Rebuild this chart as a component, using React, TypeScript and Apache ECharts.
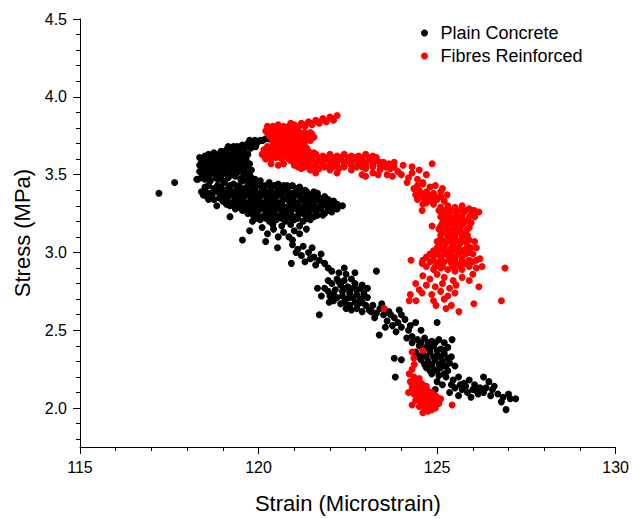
import { useEffect, useRef } from "react";
import * as echarts from "echarts";

type Pt = [number, number];

const seriesNames = ["Plain Concrete", "Fibres Reinforced"];
const seriesColors = ["#000000", "#ff0000"];

const strainRange = [115, 130];
const stressRange = [1.75, 4.5];
const stressMajorTicks = [2.0, 2.5, 3.0, 3.5, 4.0, 4.5];
const stressMinorTicks = [
  1.8, 1.9, 2.1, 2.2, 2.3, 2.4, 2.6, 2.7, 2.8, 2.9, 3.1, 3.2, 3.3, 3.4, 3.6, 3.7, 3.8, 3.9, 4.1, 4.2,
  4.3, 4.4,
];

// ---- Plain concrete (strain, stress) ----
const plainUpperBand: Pt[] = [
  [120.55, 3.75], [120.42, 3.74], [120.28, 3.73], [120.12, 3.72], [119.98, 3.71], [119.85, 3.7],
  [119.7, 3.7], [119.55, 3.69], [119.4, 3.68], [119.25, 3.67], [119.1, 3.66], [119.92, 3.68],
  [119.78, 3.67], [119.6, 3.66], [119.45, 3.65], [119.3, 3.64], [118.95, 3.65], [118.8, 3.63],
  [119.15, 3.63], [119.7, 3.63],
  [119.75, 3.72], [119.9, 3.72], [120.05, 3.72], [120.2, 3.73], [120.35, 3.73], [120.5, 3.74],
  [119.15, 3.68], [119.3, 3.68], [119.5, 3.68], [119.65, 3.68], [119.8, 3.69],
  [118.6, 3.63], [118.75, 3.64], [118.9, 3.63], [119.05, 3.64], [119.35, 3.63], [119.5, 3.63],
  [119.6, 3.64],
  [118.35, 3.61], [118.5, 3.62], [118.65, 3.61], [118.8, 3.6], [118.95, 3.61], [119.1, 3.6],
  [119.25, 3.61], [119.4, 3.6], [119.55, 3.61],
  [118.45, 3.59], [118.6, 3.59], [118.75, 3.59], [118.9, 3.59], [119.05, 3.59], [119.2, 3.59],
  [119.35, 3.59], [119.5, 3.59], [119.65, 3.6],
  [118.4, 3.58], [118.55, 3.57], [118.7, 3.58], [118.85, 3.57], [119.0, 3.58], [119.15, 3.57],
  [119.3, 3.58], [119.45, 3.57], [119.6, 3.58], [119.75, 3.57],
  [118.35, 3.56], [118.5, 3.56], [118.65, 3.56], [118.8, 3.56], [118.95, 3.56], [119.1, 3.56],
  [119.25, 3.56], [119.4, 3.56], [119.55, 3.56], [119.7, 3.56],
  [118.45, 3.54], [118.6, 3.55], [118.75, 3.54], [118.9, 3.53], [119.05, 3.55], [119.2, 3.54],
  [119.35, 3.53], [119.5, 3.54], [119.65, 3.55], [119.8, 3.53],
  [118.35, 3.52], [118.5, 3.52], [118.65, 3.52], [118.8, 3.52], [118.95, 3.52], [119.1, 3.52],
  [119.3, 3.52], [119.45, 3.52], [119.6, 3.52], [119.75, 3.51],
  [118.4, 3.51], [118.55, 3.5], [118.7, 3.51], [118.9, 3.5], [119.05, 3.51], [119.25, 3.5],
  [119.4, 3.51], [119.6, 3.5], [119.75, 3.49],
  [118.4, 3.48], [118.6, 3.49], [118.8, 3.48], [118.95, 3.49], [119.15, 3.48], [119.35, 3.49],
  [119.55, 3.48], [119.8, 3.48],
  [118.3, 3.47], [118.5, 3.47], [118.65, 3.46], [118.85, 3.47], [119.0, 3.46], [119.5, 3.47],
  [119.7, 3.46], [119.9, 3.47], [120.05, 3.46],
];

const plainOutliers: Pt[] = [
  [117.21, 3.38], [117.65, 3.45], [118.27, 3.47], [118.83, 3.3], [118.6, 3.34],
];

const plainCore: Pt[] = [
  [119.05, 3.45], [119.3, 3.44], [119.55, 3.46], [119.8, 3.45], [120.05, 3.44], [120.3, 3.45],
  [120.55, 3.44], [120.8, 3.43],
  [118.6, 3.43], [118.85, 3.43], [119.2, 3.43], [119.45, 3.43], [119.7, 3.43], [119.95, 3.43],
  [120.2, 3.43], [120.45, 3.43], [120.7, 3.43], [120.95, 3.43], [121.15, 3.42],
  [118.5, 3.42], [118.75, 3.41], [118.95, 3.42], [119.15, 3.41], [119.4, 3.42], [119.6, 3.41],
  [119.85, 3.42], [120.1, 3.41], [120.35, 3.42], [120.6, 3.41], [120.85, 3.42], [121.05, 3.41],
  [121.3, 3.4],
  [118.5, 3.4], [118.75, 3.4], [119.0, 3.4], [119.2, 3.4], [119.45, 3.4], [119.65, 3.4],
  [119.9, 3.4], [120.1, 3.4], [120.35, 3.4], [120.55, 3.4], [120.8, 3.4], [121.05, 3.4],
  [121.35, 3.39], [121.55, 3.39],
  [118.4, 3.39], [118.6, 3.38], [118.85, 3.39], [119.05, 3.38], [119.3, 3.39], [119.5, 3.38],
  [119.75, 3.39], [119.95, 3.38], [120.2, 3.39], [120.45, 3.38], [120.7, 3.39], [120.95, 3.38],
  [121.2, 3.39], [121.45, 3.37], [121.65, 3.38],
  [118.45, 3.37], [118.7, 3.37], [119.0, 3.37], [119.25, 3.37], [119.45, 3.37], [119.7, 3.37],
  [119.9, 3.37], [120.15, 3.37], [120.35, 3.37], [120.6, 3.37], [120.85, 3.37], [121.1, 3.37],
  [121.35, 3.37], [121.6, 3.36], [121.85, 3.36],
  [118.55, 3.36], [118.9, 3.35], [119.15, 3.36], [119.35, 3.35], [119.6, 3.36], [119.8, 3.35],
  [120.05, 3.36], [120.25, 3.35], [120.5, 3.36], [120.75, 3.35], [121.0, 3.36], [121.25, 3.35],
  [121.5, 3.36], [121.7, 3.35], [121.95, 3.34],
  [118.75, 3.34], [119.1, 3.34], [119.35, 3.34], [119.55, 3.34], [119.8, 3.34], [120.0, 3.34],
  [120.25, 3.34], [120.45, 3.34], [120.7, 3.34], [120.95, 3.34], [121.2, 3.34], [121.45, 3.34],
  [121.65, 3.34], [121.9, 3.33], [122.1, 3.33],
  [119.0, 3.33], [119.25, 3.32], [119.45, 3.33], [119.7, 3.32], [119.9, 3.33], [120.15, 3.32],
  [120.35, 3.33], [120.6, 3.32], [120.85, 3.33], [121.1, 3.32], [121.35, 3.33], [121.55, 3.32],
  [121.8, 3.33], [122.0, 3.32], [122.2, 3.31],
  [119.1, 3.31], [119.35, 3.31], [119.55, 3.31], [119.8, 3.31], [120.0, 3.31], [120.2, 3.31],
  [120.45, 3.31], [120.65, 3.31], [120.9, 3.31], [121.1, 3.31], [121.3, 3.31], [121.55, 3.31],
  [121.75, 3.31], [122.0, 3.3], [122.25, 3.3],
  [119.2, 3.3], [119.45, 3.29], [119.65, 3.3], [119.85, 3.29], [120.1, 3.3], [120.3, 3.29],
  [120.55, 3.3], [120.75, 3.29], [121.0, 3.3], [121.2, 3.29], [121.45, 3.3], [121.65, 3.29],
  [121.9, 3.3], [122.1, 3.29], [122.35, 3.3],
  [119.35, 3.28], [119.7, 3.28], [119.9, 3.28], [120.15, 3.28], [120.35, 3.28], [120.6, 3.28],
  [120.8, 3.28], [121.05, 3.28], [121.3, 3.28], [121.5, 3.28], [121.75, 3.28], [121.95, 3.27],
  [122.2, 3.28],
  [119.55, 3.27], [119.8, 3.26], [120.0, 3.27], [120.25, 3.26], [120.45, 3.27], [120.7, 3.26],
  [120.9, 3.27], [121.15, 3.26], [121.4, 3.27], [121.6, 3.26], [121.85, 3.25], [122.05, 3.26],
  [119.7, 3.25], [119.95, 3.25], [120.2, 3.25], [120.45, 3.25], [120.65, 3.25], [120.9, 3.25],
  [121.15, 3.25], [121.4, 3.25], [121.65, 3.24], [121.8, 3.24],
  [119.85, 3.24], [120.1, 3.23], [120.35, 3.24], [120.55, 3.23], [120.8, 3.24], [121.05, 3.23],
  [121.3, 3.24], [121.55, 3.23],
  [119.95, 3.22], [120.2, 3.22], [120.4, 3.22], [120.65, 3.22], [120.9, 3.22], [121.1, 3.22],
  [121.35, 3.22],
  [120.05, 3.21], [120.3, 3.2], [120.5, 3.21], [120.75, 3.2], [121.0, 3.21], [121.25, 3.2],
  [121.45, 3.21],
  [120.4, 3.18], [120.65, 3.17], [120.9, 3.18], [121.15, 3.17],
];

const plainScatter: Pt[] = [
  [119.55, 3.08], [119.75, 3.14], [119.83, 3.2], [120.1, 3.16], [120.25, 3.12], [120.42, 3.15],
  [120.55, 3.1], [120.7, 3.13], [120.85, 3.1], [121.0, 3.14], [121.15, 3.12], [121.34, 3.15],
  [120.53, 3.03], [120.2, 3.07], [119.2, 3.23], [120.95, 3.08],
];

const plainDiagonal: Pt[] = [
  [120.95, 3.05], [121.1, 3.02], [121.25, 3.04], [121.4, 3.0], [121.2, 2.98], [121.55, 2.97],
  [121.7, 2.95], [121.85, 2.93], [121.6, 2.92], [121.95, 2.9], [120.92, 2.93], [121.3, 2.94],
  [121.45, 2.96], [121.75, 2.99], [121.05, 3.0], [121.5, 3.03],
  [122.05, 2.88], [122.25, 2.87], [122.45, 2.86], [122.2, 2.83], [122.4, 2.82], [122.6, 2.83],
  [122.05, 2.8], [122.3, 2.79], [122.5, 2.78], [122.7, 2.8], [122.9, 2.79], [121.85, 2.77],
  [122.15, 2.76], [122.35, 2.75], [122.55, 2.74], [122.75, 2.76], [122.95, 2.74], [121.76, 2.72],
  [122.0, 2.72], [122.2, 2.71], [122.45, 2.7], [122.65, 2.71], [122.85, 2.7], [123.05, 2.71],
  [121.65, 2.77], [121.98, 2.68], [122.3, 2.67], [122.55, 2.66], [122.8, 2.67], [123.0, 2.66],
  [121.7, 2.6], [122.6, 2.63], [122.9, 2.62], [123.3, 2.88], [122.4, 2.9], [122.7, 2.87],
  [121.95, 2.82], [122.25, 2.81], [122.45, 2.77], [122.65, 2.77], [122.85, 2.77], [123.05, 2.77],
  [121.95, 2.75], [122.1, 2.73], [122.35, 2.72], [122.55, 2.71], [122.75, 2.73], [122.95, 2.72],
  [122.1, 2.69], [122.4, 2.68], [122.7, 2.68], [122.9, 2.68], [122.45, 2.64], [122.75, 2.64],
  [123.1, 2.63],
  [123.2, 2.66], [123.4, 2.64], [123.3, 2.61], [123.5, 2.6], [123.65, 2.62], [123.94, 2.63],
  [123.8, 2.58], [123.6, 2.56], [123.9, 2.55], [124.1, 2.57], [124.0, 2.52], [124.2, 2.5],
  [123.38, 2.47], [124.3, 2.46], [124.15, 2.45], [123.75, 2.53], [124.4, 2.55], [125.0, 2.55],
  [124.55, 2.5], [123.15, 2.62], [123.45, 2.67], [123.7, 2.6], [124.0, 2.6], [123.55, 2.52],
  [124.25, 2.53], [123.85, 2.49], [124.3, 2.42], [123.25, 2.58],
];

const plainLowerCluster: Pt[] = [
  [124.45, 2.44], [124.65, 2.45], [124.85, 2.43], [125.05, 2.44], [125.42, 2.44], [124.5, 2.4],
  [124.7, 2.39], [124.9, 2.4], [125.1, 2.38], [125.3, 2.39], [124.4, 2.36], [124.6, 2.35],
  [124.8, 2.36], [125.0, 2.34], [125.2, 2.35], [125.4, 2.33], [124.55, 2.31], [124.75, 2.3],
  [124.95, 2.31], [125.15, 2.3], [125.35, 2.29], [124.7, 2.26], [124.9, 2.25], [125.1, 2.26],
  [125.3, 2.24], [124.85, 2.22], [125.05, 2.21], [124.0, 2.31], [123.8, 2.32], [123.83, 2.2],
  [125.5, 2.27],
  [124.55, 2.42], [124.75, 2.42], [124.95, 2.42], [125.2, 2.42], [124.6, 2.38], [124.8, 2.38],
  [125.0, 2.37], [125.2, 2.37], [124.5, 2.33], [124.7, 2.33], [124.9, 2.33], [125.1, 2.33],
  [125.3, 2.32], [124.65, 2.28], [124.85, 2.28], [125.05, 2.28], [125.25, 2.27], [124.8, 2.24],
  [125.0, 2.24], [125.2, 2.22],
];

const plainTail: Pt[] = [
  [125.25, 2.2], [125.45, 2.18], [125.6, 2.2], [125.75, 2.16], [125.9, 2.18], [126.05, 2.15],
  [125.5, 2.13], [125.7, 2.12], [125.85, 2.1], [126.0, 2.12], [126.2, 2.13], [126.37, 2.13],
  [126.55, 2.12], [126.7, 2.09], [125.35, 2.1], [125.6, 2.08], [126.15, 2.09], [126.85, 2.07],
  [127.0, 2.09], [127.2, 2.06], [126.93, 1.99], [126.8, 2.04], [125.15, 2.15], [125.0, 2.17],
  [124.95, 2.12], [126.3, 2.2], [126.45, 2.17],
  [125.4, 2.15], [125.65, 2.15], [125.8, 2.14], [126.1, 2.11], [126.3, 2.1], [126.5, 2.08],
  [126.6, 2.14], [125.95, 2.07], [127.05, 2.06],
];

// ---- Fibre reinforced (strain, stress) ----
const fibreTopArm: Pt[] = [
  [121.0, 3.82], [121.2, 3.83], [121.4, 3.84], [121.6, 3.85], [121.8, 3.86], [122.0, 3.87],
  [122.2, 3.88], [121.1, 3.8], [121.3, 3.81], [121.5, 3.82], [121.7, 3.83], [121.9, 3.84],
  [122.1, 3.85], [120.9, 3.83], [121.05, 3.81], [121.25, 3.82], [121.45, 3.83], [121.65, 3.84],
  [121.85, 3.85], [122.05, 3.86],
];

const fibreUpperBody: Pt[] = [
  [120.25, 3.81], [120.4, 3.81], [120.55, 3.82], [120.7, 3.81], [120.85, 3.81],
  [120.3, 3.8], [120.48, 3.8], [120.63, 3.8], [120.78, 3.8], [120.92, 3.8],
  [120.2, 3.78], [120.35, 3.78], [120.5, 3.79], [120.65, 3.78], [120.8, 3.78], [120.95, 3.79],
  [121.1, 3.78],
  [120.25, 3.77], [120.4, 3.77], [120.55, 3.77], [120.7, 3.77], [120.85, 3.77], [121.0, 3.77],
  [121.15, 3.77], [121.3, 3.77], [121.45, 3.77],
  [120.3, 3.75], [120.45, 3.75], [120.6, 3.76], [120.75, 3.75], [120.9, 3.75], [121.05, 3.76],
  [121.2, 3.75], [121.35, 3.75], [121.5, 3.76],
  [120.35, 3.74], [120.5, 3.74], [120.65, 3.74], [120.8, 3.74], [120.95, 3.74], [121.1, 3.74],
  [121.25, 3.74], [121.4, 3.74], [121.55, 3.74],
  [120.4, 3.72], [120.55, 3.72], [120.7, 3.73], [120.85, 3.72], [121.0, 3.72], [121.15, 3.73],
  [121.3, 3.72], [121.45, 3.72],
  [120.4, 3.71], [120.55, 3.71], [120.7, 3.71], [120.85, 3.71], [121.0, 3.71], [121.15, 3.71],
  [121.3, 3.71],
  [120.45, 3.69], [120.6, 3.69], [120.75, 3.7], [120.9, 3.69], [121.05, 3.69], [121.2, 3.7],
  [120.25, 3.68], [120.4, 3.68], [120.55, 3.68], [120.7, 3.68], [120.85, 3.68], [121.0, 3.68],
  [121.15, 3.68], [121.3, 3.68],
  [120.15, 3.66], [120.3, 3.66], [120.45, 3.67], [120.6, 3.66], [120.75, 3.66], [120.9, 3.67],
  [121.05, 3.66], [121.2, 3.66], [121.35, 3.67],
  [120.2, 3.65], [120.35, 3.65], [120.5, 3.65], [120.65, 3.65], [120.8, 3.65], [120.95, 3.65],
  [121.1, 3.65], [121.25, 3.65], [121.4, 3.65], [121.55, 3.64],
  [120.1, 3.63], [120.25, 3.63], [120.4, 3.64], [120.55, 3.63], [120.7, 3.63], [120.85, 3.64],
  [121.0, 3.63], [121.15, 3.63], [121.3, 3.64], [121.45, 3.63], [121.6, 3.63],
  [120.15, 3.62], [120.3, 3.62], [120.45, 3.62], [120.6, 3.62], [120.75, 3.62], [120.95, 3.62],
  [121.15, 3.62], [121.35, 3.62], [121.5, 3.62],
  [120.2, 3.6], [120.35, 3.6], [120.5, 3.61], [120.65, 3.6], [120.85, 3.6], [121.05, 3.61],
  [121.25, 3.6],
  [120.35, 3.57], [120.55, 3.56], [120.7, 3.57],
];

const fibreShelf: Pt[] = [
  [121.6, 3.63], [121.8, 3.62], [122.0, 3.63], [122.2, 3.62], [122.4, 3.63], [122.6, 3.62],
  [122.8, 3.62], [123.0, 3.63], [123.2, 3.62],
  [121.7, 3.61], [121.9, 3.61], [122.1, 3.61], [122.3, 3.61], [122.5, 3.61], [122.7, 3.61],
  [122.9, 3.61], [123.1, 3.61], [123.3, 3.61],
  [120.9, 3.59], [121.1, 3.6], [121.3, 3.59], [121.5, 3.6], [121.7, 3.59], [121.9, 3.6],
  [122.1, 3.59], [122.3, 3.6], [122.5, 3.59], [122.7, 3.6], [122.9, 3.59], [123.1, 3.6],
  [123.3, 3.59], [123.5, 3.58],
  [121.0, 3.58], [121.2, 3.58], [121.4, 3.58], [121.6, 3.58], [121.8, 3.58], [122.0, 3.58],
  [122.2, 3.58], [122.4, 3.58], [122.6, 3.58], [122.8, 3.58], [123.0, 3.58], [123.2, 3.58],
  [123.4, 3.58], [123.65, 3.57],
  [121.0, 3.56], [121.2, 3.57], [121.4, 3.56], [121.6, 3.57], [121.8, 3.56], [122.0, 3.57],
  [122.2, 3.56], [122.4, 3.57], [122.6, 3.56], [122.8, 3.57], [123.0, 3.56], [123.2, 3.57],
  [123.4, 3.56], [123.6, 3.55],
  [121.1, 3.55], [121.3, 3.55], [121.55, 3.55], [121.85, 3.55], [122.1, 3.55], [122.4, 3.55],
  [122.75, 3.55], [122.9, 3.55], [123.2, 3.55], [123.55, 3.55], [123.8, 3.55],
  [121.2, 3.54], [121.45, 3.53], [121.7, 3.54], [122.0, 3.53], [122.25, 3.54], [122.6, 3.53],
  [123.0, 3.54], [123.4, 3.53], [123.7, 3.54], [123.9, 3.52],
  [121.6, 3.51], [122.2, 3.51], [122.9, 3.5], [123.2, 3.51], [123.6, 3.5], [124.0, 3.5],
  [124.3, 3.51],
  [123.8, 3.58], [124.05, 3.56], [124.3, 3.55], [124.5, 3.53], [124.86, 3.57], [124.7, 3.5],
  [124.2, 3.48], [124.45, 3.47], [123.75, 3.49], [124.6, 3.45], [123.0, 3.49], [123.35, 3.5],
];

const fibreShoulder: Pt[] = [
  [124.16, 3.45], [124.45, 3.43], [124.6, 3.44], [124.8, 3.42], [124.95, 3.43], [125.15, 3.41],
  [124.5, 3.4], [124.7, 3.39], [124.9, 3.38], [125.1, 3.39], [125.28, 3.37], [124.4, 3.37],
  [124.6, 3.36], [124.8, 3.35], [125.0, 3.34], [124.7, 3.32], [124.9, 3.31], [124.58, 3.27],
  [124.86, 3.17], [124.45, 3.34], [125.2, 3.33],
  [124.35, 3.41], [124.55, 3.38], [124.75, 3.37], [124.95, 3.36], [125.1, 3.36], [124.65, 3.34],
  [124.85, 3.33], [124.6, 3.31],
];

const fibreColumn: Pt[] = [
  [125.1, 3.29], [125.3, 3.3], [125.5, 3.29], [125.7, 3.3], [125.9, 3.28], [126.05, 3.27],
  [126.17, 3.26],
  [125.05, 3.27], [125.4, 3.27], [125.8, 3.27], [126.0, 3.27],
  [125.15, 3.25], [125.35, 3.26], [125.55, 3.25], [125.75, 3.26], [125.95, 3.24],
  [125.1, 3.23], [125.3, 3.23], [125.5, 3.23], [125.7, 3.23], [125.9, 3.23], [126.05, 3.23],
  [125.2, 3.21], [125.4, 3.22], [125.6, 3.21], [125.8, 3.2],
  [125.15, 3.19], [125.35, 3.19], [125.55, 3.19], [125.75, 3.19], [125.95, 3.19],
  [125.1, 3.17], [125.3, 3.18], [125.5, 3.17], [125.7, 3.18], [125.9, 3.16],
  [125.05, 3.15], [125.45, 3.15], [125.85, 3.15],
  [125.15, 3.13], [125.35, 3.14], [125.55, 3.13], [125.75, 3.12],
  [125.1, 3.11], [125.3, 3.11], [125.5, 3.11], [125.7, 3.11], [125.85, 3.11],
  [125.1, 3.09], [125.3, 3.1], [125.5, 3.09], [125.7, 3.1], [125.9, 3.08], [126.05, 3.07],
  [125.0, 3.07], [125.2, 3.07], [125.4, 3.07], [125.8, 3.07],
  [125.05, 3.05], [125.25, 3.06], [125.45, 3.05], [125.65, 3.06], [125.85, 3.04],
  [125.0, 3.03], [125.4, 3.03], [125.6, 3.03], [125.95, 3.03],
  [124.9, 3.01], [125.1, 3.02], [125.3, 3.01], [125.5, 3.02], [125.7, 3.01], [125.9, 3.0],
  [126.1, 3.03],
  [124.8, 2.99], [125.2, 2.99], [125.8, 2.99], [126.0, 2.99],
  [124.7, 2.97], [124.9, 2.98], [125.1, 2.97], [125.3, 2.98], [125.5, 2.97], [125.7, 2.96],
  [126.2, 2.96],
  [124.6, 2.95], [124.9, 2.95], [125.1, 2.95], [125.5, 2.95], [125.7, 2.95], [125.9, 2.95],
  [126.1, 2.95],
  [124.58, 2.93], [124.8, 2.94], [125.0, 2.93], [125.2, 2.94], [125.4, 2.93], [125.6, 2.92],
  [125.8, 2.93], [126.0, 2.94], [126.26, 2.91], [124.27, 2.95],
  [124.7, 2.91], [124.95, 2.91], [125.15, 2.91], [125.45, 2.91], [125.65, 2.91], [125.9, 2.91],
  [124.9, 2.89], [125.1, 2.9], [125.3, 2.89], [125.5, 2.88], [125.7, 2.89], [126.1, 2.9],
  [125.2, 3.27], [125.6, 3.27], [125.45, 3.19], [125.25, 3.15], [125.65, 3.15], [125.4, 3.11],
  [125.6, 3.07], [125.2, 3.03], [125.4, 2.99], [125.6, 2.99], [125.0, 2.99], [125.8, 3.02],
  [125.35, 2.95],
];

const fibreSpread: Pt[] = [
  [124.6, 2.85], [124.8, 2.83], [125.0, 2.86], [125.2, 2.84], [125.45, 2.82], [124.7, 2.79],
  [124.95, 2.78], [125.15, 2.8], [125.35, 2.77], [125.53, 2.79], [124.58, 2.74], [124.85, 2.73],
  [125.1, 2.75], [125.3, 2.72], [125.5, 2.74], [124.9, 2.69], [125.2, 2.7], [124.22, 2.69],
  [124.41, 2.69], [124.97, 2.66], [125.25, 2.64], [125.61, 2.62], [125.4, 2.66], [126.03, 2.67],
  [126.17, 2.78], [124.4, 2.8], [124.5, 2.76], [125.7, 2.84], [125.9, 2.82], [126.0, 2.86],
  [126.9, 2.9], [126.8, 2.69], [123.52, 2.64], [124.25, 2.73],
];

const fibreBase: Pt[] = [
  [124.3, 2.36], [124.36, 2.28], [124.22, 2.22], [124.6, 2.37],
  [124.25, 2.17], [124.4, 2.18], [124.55, 2.16], [124.3, 2.13], [124.45, 2.12], [124.6, 2.13],
  [124.75, 2.11], [124.35, 2.09], [124.5, 2.08], [124.65, 2.09], [124.8, 2.07], [124.95, 2.08],
  [125.1, 2.06], [124.4, 2.05], [124.55, 2.04], [124.7, 2.05], [124.85, 2.03], [125.0, 2.04],
  [124.5, 2.01], [124.65, 2.0], [124.8, 2.01], [124.95, 2.0], [124.6, 1.97], [124.75, 1.98],
  [124.3, 2.02], [125.42, 2.02], [124.2, 2.1], [124.35, 2.2],
  [124.3, 2.15], [124.45, 2.15], [124.6, 2.15], [124.7, 2.14], [124.4, 2.11], [124.55, 2.1],
  [124.7, 2.08], [124.85, 2.1], [125.0, 2.07], [124.45, 2.07], [124.6, 2.06], [124.75, 2.03],
  [124.9, 2.05], [125.05, 2.03], [124.6, 2.02], [124.7, 1.99], [124.85, 1.99], [124.5, 2.19],
  [124.3, 2.25], [124.35, 2.32],
];

const plainConcrete: Pt[] = [
  ...plainUpperBand,
  ...plainOutliers,
  ...plainCore,
  ...plainScatter,
  ...plainDiagonal,
  ...plainLowerCluster,
  ...plainTail,
];

const fibresReinforced: Pt[] = [
  ...fibreTopArm,
  ...fibreUpperBody,
  ...fibreShelf,
  ...fibreShoulder,
  ...fibreColumn,
  ...fibreSpread,
  ...fibreBase,
];

const FONT = "'Liberation Sans', Arial, sans-serif";

export default function App() {
  const ref = useRef<HTMLDivElement>(null);

  useEffect(() => {
    if (!ref.current) return;
    const chart = echarts.init(ref.current, undefined, { renderer: "svg" });

    const axisLine = { show: true, lineStyle: { color: "#000", width: 1 } };

    chart.setOption({
      animation: false,
      backgroundColor: "#ffffff",
      grid: { left: 80, right: 15, top: 19, bottom: 69 },
      legend: {
        orient: "vertical",
        left: 421,
        top: 24,
        padding: 0,
        itemGap: 5,
        itemWidth: 22,
        itemHeight: 7,
        icon: "circle",
        data: seriesNames,
        textStyle: { fontFamily: FONT, fontSize: 18, color: "#000" },
      },
      xAxis: {
        type: "value",
        min: strainRange[0],
        max: strainRange[1],
        interval: 5,
        name: "Strain (Microstrain)",
        nameLocation: "middle",
        nameGap: 45,
        nameTextStyle: { fontFamily: FONT, fontSize: 22, color: "#000" },
        axisLine,
        axisTick: { show: true, length: 7, lineStyle: { color: "#000" } },
        minorTick: { show: true, splitNumber: 5, length: 4, lineStyle: { color: "#000" } },
        splitLine: { show: false },
        axisLabel: { fontFamily: FONT, fontSize: 16, color: "#000", margin: 12 },
      },
      yAxis: [
        {
          type: "value",
          min: stressRange[0],
          max: stressRange[1],
          name: "Stress (MPa)",
          nameLocation: "middle",
          nameGap: 47,
          nameTextStyle: { fontFamily: FONT, fontSize: 22, color: "#000" },
          axisLine,
          axisTick: {
            show: true,
            length: 7,
            customValues: stressMajorTicks,
            lineStyle: { color: "#000" },
          },
          splitLine: { show: false },
          axisLabel: {
            fontFamily: FONT,
            fontSize: 16,
            color: "#000",
            margin: 13,
            customValues: stressMajorTicks,
            formatter: (v: number) => v.toFixed(1),
          },
        },
        {
          type: "value",
          min: stressRange[0],
          max: stressRange[1],
          position: "left",
          axisLine: { show: false },
          axisTick: {
            show: true,
            length: 4,
            customValues: stressMinorTicks,
            lineStyle: { color: "#000" },
          },
          axisLabel: { show: false },
          splitLine: { show: false },
        },
      ],
      series: [
        {
          name: seriesNames[0],
          type: "scatter",
          data: plainConcrete,
          symbolSize: 7,
          itemStyle: { color: seriesColors[0], opacity: 1 },
          yAxisIndex: 0,
        },
        {
          name: seriesNames[1],
          type: "scatter",
          data: fibresReinforced,
          symbolSize: 7,
          itemStyle: { color: seriesColors[1], opacity: 1 },
          yAxisIndex: 0,
        },
      ],
    });

    return () => chart.dispose();
  }, []);

  return (
    <div
      ref={ref}
      style={{ position: "fixed", left: 0, top: 0, width: 632, height: 519, background: "#fff" }}
    />
  );
}
